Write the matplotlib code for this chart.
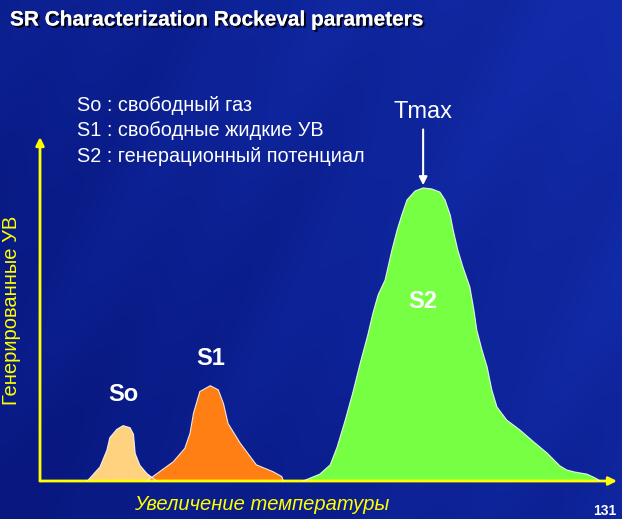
import numpy as np
import matplotlib
matplotlib.use('Agg')
import matplotlib.pyplot as plt
import matplotlib.patheffects as pe

plt.rcParams['font.family'] = ['Liberation Sans', 'DejaVu Sans']

### Data (arbitrary units: temperature 0-100, signal 0-100)
so_temp   = [8.2, 10.4, 11.6, 12.1, 13.3, 14.4, 15.6, 16.2, 16.5, 17.3, 18.5, 20.2]
so_signal = [0.0, 4.1, 9.0, 12.6, 15.0, 16.1, 15.5, 13.6, 8.0, 4.6, 2.2, 0.0]

s1_temp   = [18.5, 23.1, 25.1, 26.0, 26.6, 27.7, 29.5, 30.9, 31.8, 32.6, 34.7, 37.5, 40.4, 41.9, 42.2]
s1_signal = [0.0, 5.6, 9.5, 13.9, 19.7, 26.0, 27.7, 26.5, 22.5, 16.7, 11.0, 4.7, 2.7, 1.3, 0.0]

s2_temp   = [45.6, 48.5, 50.3, 51.5, 52.9, 54.2, 55.5, 56.8, 57.7, 58.6, 59.8, 61.0, 61.9, 62.7,
             63.6, 65.0, 66.4, 67.9, 69.3, 70.2, 71.1, 71.6, 72.4, 73.3, 74.5, 75.2, 75.7, 76.6,
             77.5, 78.3, 79.2, 80.9, 83.2, 85.4, 87.9, 90.1, 91.3, 92.7, 94.8, 96.2, 97.1]
s2_signal = [0.0, 2.0, 4.7, 9.9, 17.7, 25.6, 34.3, 42.4, 48.8, 54.1, 58.4, 67.2, 73.0, 77.3,
             81.7, 84.3, 85.2, 84.9, 84.0, 81.7, 77.3, 73.0, 67.2, 62.2, 56.4, 49.7, 43.9, 38.1,
             33.1, 26.5, 21.5, 17.7, 14.8, 11.6, 8.1, 4.4, 3.2, 2.6, 2.0, 0.9, 0.0]

peak_names = ['So', 'S1', 'S2']
legend_lines = ['So : свободный газ',
                'S1 : свободные жидкие УВ',
                'S2 : генерационный потенциал']

### Figure + background gradient
fig = plt.figure(figsize=(6.22, 5.19), dpi=100)
bg = fig.add_axes([0, 0, 1, 1], zorder=0)
bg.axis('off')
gx, gy = np.meshgrid(np.linspace(0, 1, 311), np.linspace(0, 1, 260))
c0 = np.array([8, 24, 128]) / 255
c1 = np.array([20, 48, 180]) / 255
w = np.clip(0.55 * gx + 0.25 * (1 - gy), 0, 1)
# faint diagonal streaks
streak = 0.06 * np.sin(18 * (gx * 0.8 + gy * 0.6)) + 0.04 * np.sin(41 * (gx * 0.9 + gy * 0.4))
w = np.clip(w + streak, 0, 1)
img = c0[None, None, :] * (1 - w[..., None]) + c1[None, None, :] * w[..., None]
bg.imshow(img, aspect='auto', extent=[0, 1, 0, 1], origin='upper')
bg.set_xlim(0, 1)
bg.set_ylim(0, 1)

### Main axes
ax = fig.add_axes([40/622, 38/519, 577/622, 344/519], zorder=1)
ax.patch.set_alpha(0)
ax.set_xlim(0, 100)
ax.set_ylim(0, 100)
for s in ax.spines.values():
    s.set_visible(False)
ax.set_xticks([])
ax.set_yticks([])

yel = '#ffff00'
ax.annotate('', xy=(0, 1), xytext=(0, 0), xycoords='axes fraction',
            arrowprops=dict(arrowstyle='-|>', color=yel, lw=2, mutation_scale=12, shrinkA=0, shrinkB=0))
ax.annotate('', xy=(1, 0), xytext=(0, 0), xycoords='axes fraction',
            arrowprops=dict(arrowstyle='-|>', color=yel, lw=2, mutation_scale=12, shrinkA=0, shrinkB=0))

cols = ['#ffd27f', '#ff7f14', '#77ff44']
for t, v, c in [(so_temp, so_signal, cols[0]), (s2_temp, s2_signal, cols[2]), (s1_temp, s1_signal, cols[1])]:
    ax.fill_between(t, 0, v, facecolor=c, edgecolor='none', zorder=2)
    ax.plot(t, v, color='white', lw=0.8, alpha=0.85, zorder=3)

# peak labels
pk = [(so_temp, so_signal), (s1_temp, s1_signal), (s2_temp, s2_signal)]
offs = [9, 8, -33]
for name, (t, v), o in zip(peak_names, pk, offs):
    i = int(np.argmax(v))
    ax.text(t[i], v[i] + o, name, color='white', fontsize=17, fontweight='bold',
            ha='center', va='center', zorder=4)

# Tmax arrow
i = int(np.argmax(s2_signal))
ax.annotate('', xy=(s2_temp[i], s2_signal[i] + 0.8), xytext=(s2_temp[i], s2_signal[i] + 17),
            arrowprops=dict(arrowstyle='-|>', color='white', lw=1.5, mutation_scale=12, shrinkA=0, shrinkB=0))
ax.text(s2_temp[i], s2_signal[i] + 22, 'Tmax', color='white', fontsize=17,
        ha='center', va='center', zorder=4)

### Texts
fig.text(10/622, 1 - 20/519, 'SR Characterization Rockeval parameters', color='white',
         fontsize=15, fontweight='bold', ha='left', va='center',
         path_effects=[pe.withSimplePatchShadow(offset=(1.5, -1.5), shadow_rgbFace='black', alpha=0.9), pe.Normal()])
for k, line in enumerate(legend_lines):
    fig.text(77/622, 1 - (105 + 25.5 * k)/519, line, color='white', fontsize=14.3,
             ha='left', va='center')
fig.text(12/622, 1 - 310/519, 'Генерированные УВ', color=yel, fontsize=14.5,
         rotation=90, ha='center', va='center')
fig.text(262/622, 1 - 505/519, 'Увеличение температуры', color=yel, fontsize=14.5,
         style='italic', ha='center', va='center')
fig.text(605/622, 1 - 511/519, '131', color='white', fontsize=10, fontweight='bold',
         ha='center', va='center')

fig.savefig('out.png', dpi=100)
